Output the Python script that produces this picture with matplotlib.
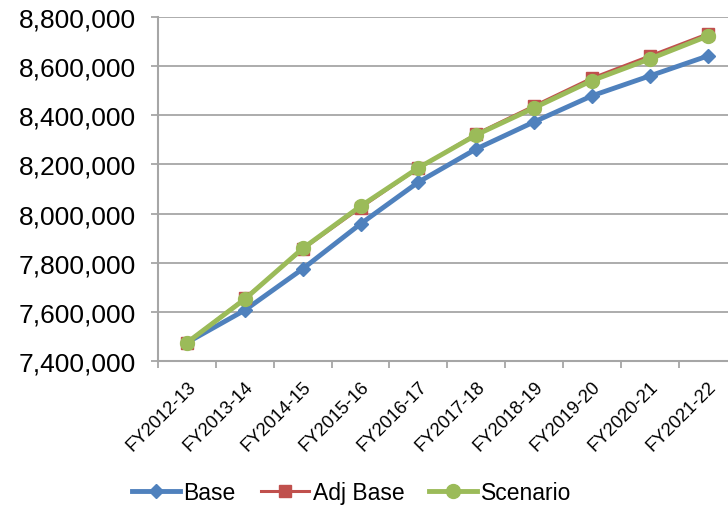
import numpy as np
import matplotlib
matplotlib.use("Agg")
import matplotlib.pyplot as plt
from matplotlib.ticker import FuncFormatter

plt.rcParams['font.family'] = ['Liberation Sans', 'DejaVu Sans']

# data
years = ["FY2012-13", "FY2013-14", "FY2014-15", "FY2015-16", "FY2016-17",
         "FY2017-18", "FY2018-19", "FY2019-20", "FY2020-21", "FY2021-22"]
base = [7475000, 7607000, 7775000, 7958000, 8128000,
        8263000, 8373000, 8479000, 8560000, 8641000]
adj_base = [7475000, 7655000, 7855000, 8024000, 8185000,
            8324000, 8438000, 8551000, 8641000, 8731000]
scenario = [7475000, 7652000, 7858000, 8030000, 8186000,
            8320000, 8430000, 8541000, 8629000, 8722000]

grid_col = "#A6A6A6"

fig = plt.figure(figsize=(7.28, 5.10), dpi=100)
ax = fig.add_axes([0.217, 0.290, 0.795, 0.675])

x = np.arange(len(years))
ax.plot(x, base, color="#4F81BD", lw=3.5, marker="D", ms=7, label="Base", zorder=3)
ax.plot(x, adj_base, color="#C0504D", lw=2.2, marker="s", ms=8, label="Adj Base", zorder=4)
ax.plot(x, scenario, color="#9BBB59", lw=3.5, marker="o", ms=10, label="Scenario", zorder=5)

ax.set_ylim(7400000, 8800000)
ax.set_yticks(np.arange(7400000, 8800001, 200000))
ax.yaxis.set_major_formatter(FuncFormatter(lambda v, p: f"{int(v):,}"))
ax.grid(axis="y", color=grid_col, lw=1.3)
ax.set_axisbelow(True)

ax.set_xlim(-0.5, 9.5)
ax.set_xticks(x)
ax.set_xticklabels(years, rotation=45, ha="right", rotation_mode="anchor", fontsize=13.2)
ax.set_xticks(np.arange(-0.5, 10, 1), minor=True)
ax.tick_params(axis="x", which="major", length=0, pad=12)
ax.tick_params(axis="x", which="minor", length=5, color=grid_col, width=1.3)
ax.tick_params(axis="y", length=5, color=grid_col, width=1.3, labelsize=19, pad=11)

for s in ["top", "right"]:
    ax.spines[s].set_visible(False)
for s in ["left", "bottom"]:
    ax.spines[s].set_color(grid_col)
    ax.spines[s].set_linewidth(1.5)

fig.legend(loc="center", bbox_to_anchor=(0.483, 0.032), ncol=3, frameon=False,
           fontsize=16.5, handlelength=2.1, handletextpad=0.15, columnspacing=1.1)

fig.savefig("out.png", dpi=100)
